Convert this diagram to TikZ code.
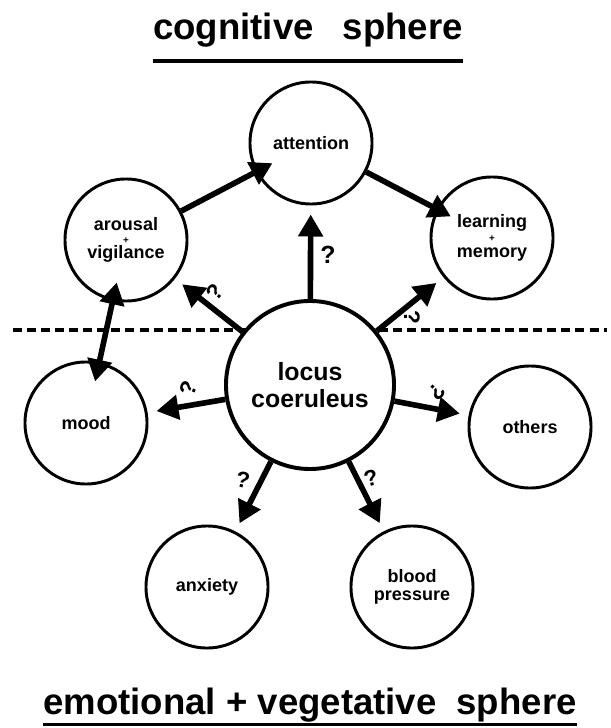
\documentclass[tikz,border=0pt]{standalone}
\usepackage{fontspec}
\setmainfont{Liberation Sans}
\usetikzlibrary{arrows.meta}

\begin{document}
\begin{tikzpicture}[x=0.025cm,y=-0.025cm,
        fat/.tip={Triangle[length=0.55cm,width=0.6cm]},
        blob/.style={draw,circle,line width=2.1pt,minimum size=3.05cm,inner sep=0pt,fill=white,align=center,font=\fontsize{12.8}{15}\selectfont\bfseries},
        arr/.style={-fat,line width=4pt},
        qm/.style={font=\fontsize{16}{19}\selectfont\bfseries,inner sep=0pt},
        ttl/.style={anchor=base,inner sep=0pt,font=\fontsize{26}{30}\selectfont\bfseries}]
        \useasboundingbox (0,0) rectangle (610,728);
        \node[ttl] (cog) at (308,40) {cognitive\hspace{0.8em}sphere};
        \draw[line width=2.8pt] ([yshift=-9pt]cog.south west) -- ([yshift=-9pt]cog.south east);
        \node[ttl] (emo) at (310,714) {emotional + vegetative\hspace{0.55em}sphere};
        \draw[line width=2.2pt] ([yshift=-2pt]emo.south west) -- ([yshift=-2pt]emo.south east);
        \coordinate (dl) at (13,330);
        \coordinate (dr) at (607,330);
        \draw[line width=2.8pt,dash pattern=on 6.4pt off 3.6pt] (dl) -- (dr);
        \node[blob] (att) at (311,143) {attention};
        \node[blob] (arous) at (126,240) {arousal\\[-6pt]{\scriptsize +}\\[-4pt]vigilance};
        \node[blob] (learn) at (492,238) {learning\\[-5pt]{\scriptsize +}\\[-3.5pt]memory};
        \node[blob,line width=2.8pt,minimum size=4.2cm,font=\fontsize{17.7}{21}\selectfont\bfseries] (lc) at (310,385) {locus\\[-2pt]coeruleus};
        \node[blob] (mood) at (86,423) {mood};
        \node[blob] (oth) at (530,427) {others};
        \node[blob] (anx) at (207,587) {anxiety};
        \node[blob] (bp) at (412,587) {blood\\[-2pt]pressure};
        \draw[arr,shorten >=-0.475cm] (arous) -- (att);
        \draw[arr,shorten >=-0.4cm] (att) -- (learn);
        \draw[arr,fat-fat,shorten <=-0.475cm,shorten >=-0.5cm] (arous) -- (mood);
        \foreach \t in {att,arous,learn,mood,oth,anx,bp}
                \draw[arr,shorten >=0.225cm] (lc) -- (\t);
        \node[qm,font=\fontsize{17.7}{21}\selectfont\bfseries] (q1) at (328,255) {?};
        \node[qm,rotate=50] (q2) at (215,292) {?};
        \node[qm,rotate=-90] (q3) at (412,317) {?};
        \node[qm,rotate=70] (q4) at (188,388) {?};
        \node[qm,rotate=-135] (q5) at (437,392) {?};
        \node[qm,rotate=-10] (q6) at (243,480) {?};
        \node[qm,rotate=15] (q7) at (371,478) {?};
    \end{tikzpicture}
\end{document}
